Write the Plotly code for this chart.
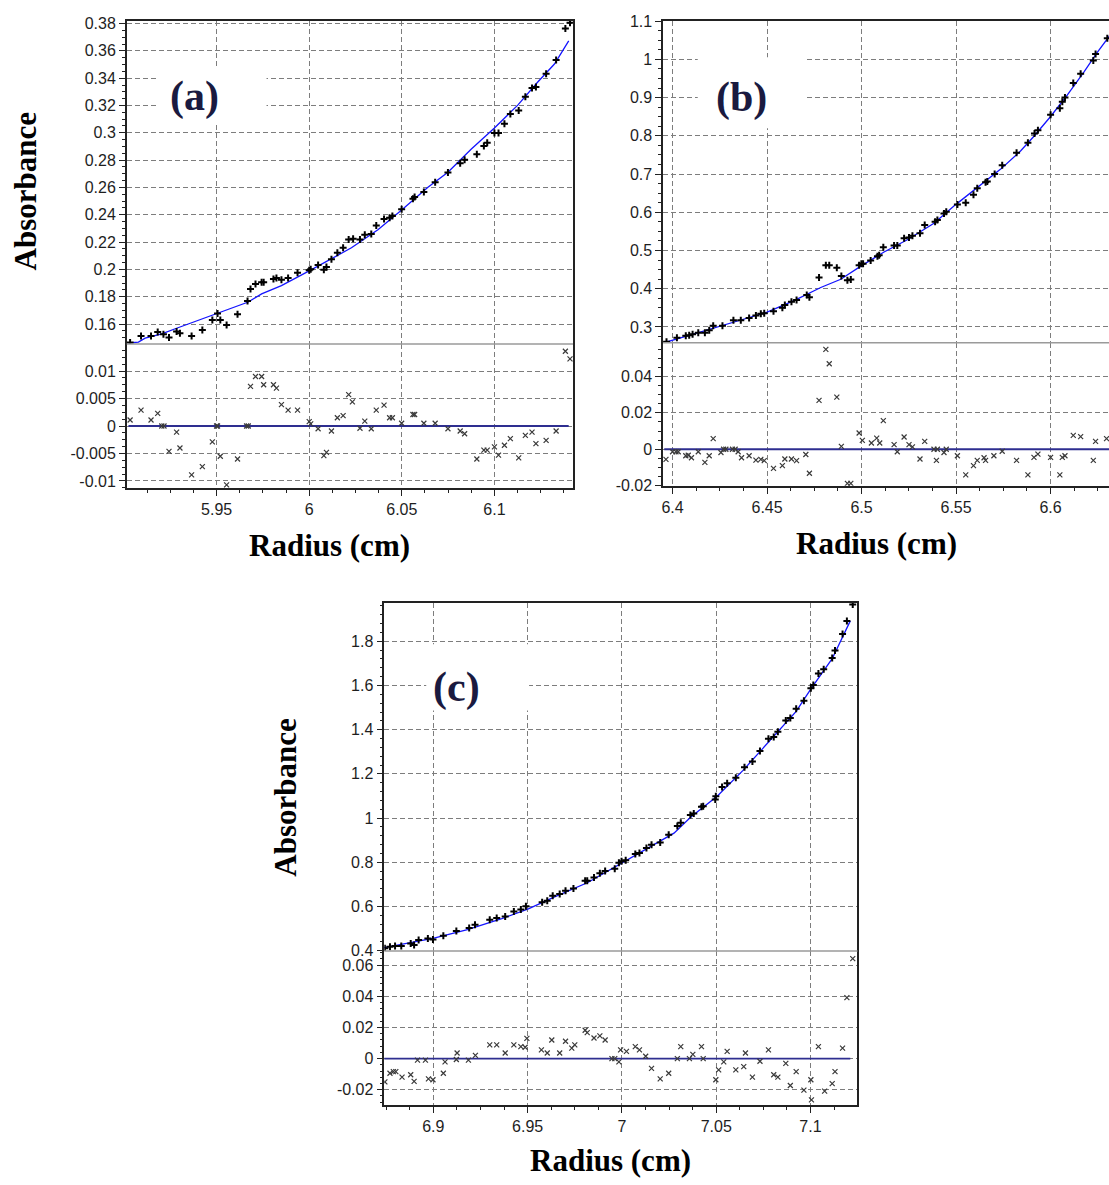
import plotly.graph_objects as go

# ---------------- DATA ----------------
# Panel (a)
a_r = [5.9033, 5.9092, 5.9146, 5.9182, 5.9213, 5.9243, 5.9284, 5.9302, 5.9365, 5.9423, 5.9477, 5.9505, 5.952, 5.9554, 5.9613, 5.9667, 5.9683, 5.971, 5.9743, 5.9754, 5.9807, 5.9823, 5.985, 5.9886, 5.9937, 6.0, 6.0008, 6.0048, 6.0079, 6.0093, 6.012, 6.0152, 6.0183, 6.0213, 6.0237, 6.0274, 6.03, 6.0335, 6.0362, 6.0404, 6.0434, 6.0449, 6.0499, 6.056, 6.0569, 6.0619, 6.068, 6.0749, 6.0815, 6.0839, 6.0905, 6.0943, 6.0961, 6.1, 6.1022, 6.1054, 6.1086, 6.1131, 6.1167, 6.1203, 6.1224, 6.1279, 6.1333, 6.1383, 6.1408]
a_abs = [0.1465, 0.1513, 0.1513, 0.1542, 0.1525, 0.1501, 0.1545, 0.1533, 0.1513, 0.1557, 0.1629, 0.1677, 0.1629, 0.1593, 0.1672, 0.1768, 0.1857, 0.1893, 0.1905, 0.1905, 0.1929, 0.1937, 0.1925, 0.1937, 0.1975, 0.1994, 0.2001, 0.2033, 0.1997, 0.2018, 0.2074, 0.2122, 0.2158, 0.2218, 0.2225, 0.2218, 0.2254, 0.2259, 0.2321, 0.2369, 0.2379, 0.2391, 0.2441, 0.2518, 0.253, 0.2566, 0.2638, 0.271, 0.2778, 0.2802, 0.2843, 0.2903, 0.2927, 0.2999, 0.2999, 0.3066, 0.3138, 0.3163, 0.3264, 0.3329, 0.3336, 0.3432, 0.3533, 0.3764, 0.3805]
a_fit_r = [5.9024, 5.9078, 5.9114, 5.9204, 5.9284, 5.9383, 5.95, 5.9671, 5.9743, 5.985, 6.0, 6.0102, 6.0228, 6.0371, 6.0499, 6.0641, 6.0749, 6.0874, 6.1, 6.1126, 6.1234, 6.1324, 6.1401]
a_fit = [0.1461, 0.1468, 0.1497, 0.1528, 0.1569, 0.1617, 0.1677, 0.1761, 0.1821, 0.1881, 0.1989, 0.2062, 0.2158, 0.229, 0.2434, 0.2602, 0.2711, 0.2879, 0.3035, 0.3203, 0.3372, 0.3504, 0.3673]
a_res_r = [5.9033, 5.9092, 5.9146, 5.9182, 5.9204, 5.9216, 5.9243, 5.9284, 5.9302, 5.9365, 5.9423, 5.9477, 5.95, 5.9505, 5.952, 5.9554, 5.9613, 5.9662, 5.9671, 5.9683, 5.971, 5.9743, 5.9754, 5.9807, 5.9823, 5.985, 5.9886, 5.9937, 6.0, 6.0008, 6.0048, 6.0079, 6.0093, 6.012, 6.0152, 6.0183, 6.0213, 6.0233, 6.0274, 6.03, 6.0335, 6.0362, 6.0404, 6.0434, 6.0449, 6.0499, 6.056, 6.0569, 6.0619, 6.068, 6.0749, 6.0815, 6.0839, 6.0905, 6.0943, 6.0961, 6.1, 6.1022, 6.1054, 6.1086, 6.1131, 6.1167, 6.1203, 6.1224, 6.1279, 6.1333, 6.1383, 6.1408]
a_res = [0.0011, 0.0029, 0.0011, 0.0023, 0.0, 0.0, -0.0046, -0.0011, -0.004, -0.0089, -0.0074, -0.0029, 0.0, 0.0, -0.0055, -0.0107, -0.006, 0.0, 0.0, 0.0072, 0.009, 0.009, 0.0075, 0.0075, 0.0069, 0.0039, 0.0029, 0.0029, 0.0008, 0.0004, -0.0005, -0.0054, -0.0048, -0.0009, 0.0015, 0.0019, 0.0057, 0.0044, -0.0004, 0.0009, -0.0005, 0.0029, 0.0038, 0.0015, 0.0015, 0.0005, 0.0021, 0.0021, 0.0005, 0.0005, -0.0005, -0.0009, -0.0014, -0.006, -0.0044, -0.0044, -0.0038, -0.0053, -0.0035, -0.0023, -0.0058, -0.0017, -0.0011, -0.0032, -0.0026, -0.0009, 0.0136, 0.0122]

# Panel (b)
b_r = [6.3968, 6.4023, 6.407, 6.4088, 6.4106, 6.4136, 6.4171, 6.4194, 6.4215, 6.4264, 6.4322, 6.4361, 6.4405, 6.4441, 6.4467, 6.4485, 6.4534, 6.4581, 6.4594, 6.4629, 6.4656, 6.471, 6.4724, 6.4775, 6.4811, 6.4829, 6.4869, 6.4893, 6.4925, 6.4943, 6.4987, 6.4999, 6.5008, 6.5048, 6.5084, 6.5093, 6.5115, 6.5172, 6.5189, 6.5225, 6.5251, 6.5269, 6.5309, 6.5334, 6.5389, 6.5401, 6.5436, 6.5448, 6.5507, 6.5551, 6.5592, 6.5612, 6.5656, 6.5665, 6.5704, 6.5744, 6.582, 6.588, 6.5915, 6.5933, 6.6, 6.6049, 6.6062, 6.6076, 6.612, 6.6159, 6.6226, 6.6238, 6.63]
b_abs = [0.2613, 0.2716, 0.2768, 0.2785, 0.2811, 0.2845, 0.2845, 0.2914, 0.3034, 0.3034, 0.3172, 0.3172, 0.3232, 0.3301, 0.3344, 0.3361, 0.3413, 0.3499, 0.3576, 0.3662, 0.3705, 0.3834, 0.3774, 0.429, 0.4617, 0.4617, 0.4548, 0.4333, 0.4222, 0.4239, 0.4617, 0.4652, 0.4652, 0.4738, 0.4849, 0.4875, 0.5082, 0.5133, 0.5133, 0.5323, 0.534, 0.5383, 0.5452, 0.5667, 0.5753, 0.5796, 0.5968, 0.6011, 0.62, 0.6252, 0.6458, 0.663, 0.6785, 0.6802, 0.7, 0.7232, 0.7559, 0.7817, 0.8058, 0.8144, 0.8548, 0.872, 0.8892, 0.9004, 0.9383, 0.9624, 0.9968, 1.014, 1.0553]
b_fit_r = [6.3956, 6.4, 6.415, 6.4326, 6.45, 6.4643, 6.4784, 6.489, 6.4996, 6.5119, 6.5242, 6.5313, 6.5383, 6.5498, 6.5612, 6.5736, 6.5841, 6.5912, 6.6, 6.6088, 6.6176, 6.6247, 6.6312]
b_fit = [0.2587, 0.2656, 0.2871, 0.3129, 0.3387, 0.3688, 0.4032, 0.4247, 0.459, 0.4961, 0.528, 0.5495, 0.571, 0.62, 0.6656, 0.7129, 0.7602, 0.7989, 0.8505, 0.9065, 0.9667, 1.0183, 1.0613]
b_res_r = [6.3965, 6.4, 6.4018, 6.403, 6.407, 6.4083, 6.41, 6.4136, 6.4171, 6.4194, 6.4215, 6.4256, 6.427, 6.4282, 6.4317, 6.4331, 6.4347, 6.4365, 6.4405, 6.4441, 6.4467, 6.4485, 6.4534, 6.4581, 6.4594, 6.4629, 6.4656, 6.4705, 6.4724, 6.4775, 6.4811, 6.4829, 6.4869, 6.4893, 6.4925, 6.4943, 6.4987, 6.5004, 6.5052, 6.508, 6.5096, 6.5115, 6.5172, 6.5189, 6.5225, 6.5251, 6.5269, 6.5309, 6.5334, 6.5383, 6.5396, 6.5401, 6.5436, 6.5448, 6.5507, 6.5551, 6.5592, 6.5612, 6.5648, 6.5656, 6.57, 6.5744, 6.582, 6.588, 6.5912, 6.5933, 6.6, 6.6049, 6.6062, 6.6076, 6.612, 6.6159, 6.6226, 6.6238, 6.6296]
b_res = [-0.0056, -0.0014, -0.0014, -0.0014, -0.0036, -0.0033, -0.0047, -0.0014, -0.0072, -0.0036, 0.0058, -0.0018, 0.0, 0.0, 0.0, 0.0, -0.0014, -0.0047, -0.0036, -0.006, -0.0056, -0.0063, -0.0105, -0.009, -0.0054, -0.0054, -0.0063, -0.0029, -0.0132, 0.0269, 0.0549, 0.047, 0.0287, 0.0016, -0.0188, -0.0188, 0.0089, 0.0049, 0.0034, 0.0061, 0.0034, 0.0157, 0.0025, -0.0014, 0.0067, 0.0025, 0.0013, -0.0054, 0.0043, 0.0, -0.0061, 0.0, -0.0018, 0.0, -0.0036, -0.0141, -0.009, -0.0061, -0.0047, -0.0061, -0.0036, -0.0011, -0.0061, -0.0141, -0.0045, -0.0027, -0.0045, -0.0141, -0.0045, -0.0036, 0.0076, 0.0069, -0.0061, 0.0043, 0.0058]

# Panel (c)
c_r = [6.8743, 6.877, 6.8797, 6.883, 6.888, 6.8898, 6.8922, 6.8971, 6.8998, 6.9053, 6.9122, 6.919, 6.9221, 6.9299, 6.9336, 6.9381, 6.9427, 6.9464, 6.9491, 6.9577, 6.9604, 6.9633, 6.967, 6.9701, 6.9743, 6.9805, 6.9816, 6.9852, 6.9883, 6.9911, 6.9962, 6.9984, 6.9998, 7.002, 7.0071, 7.0093, 7.013, 7.0157, 7.0203, 7.0248, 7.0294, 7.0312, 7.0363, 7.0381, 7.0422, 7.0431, 7.0495, 7.0498, 7.0531, 7.0558, 7.0604, 7.065, 7.0692, 7.0732, 7.0777, 7.0805, 7.0827, 7.0869, 7.0893, 7.0924, 7.0965, 7.1002, 7.1015, 7.1042, 7.107, 7.1115, 7.113, 7.117, 7.1193, 7.1224]
c_abs = [0.4104, 0.4179, 0.4209, 0.4209, 0.4328, 0.4253, 0.4477, 0.4551, 0.4506, 0.467, 0.4894, 0.5028, 0.5177, 0.54, 0.5474, 0.5549, 0.5772, 0.5862, 0.6011, 0.6189, 0.6264, 0.6487, 0.6562, 0.6711, 0.6815, 0.7158, 0.7158, 0.7307, 0.75, 0.7604, 0.7709, 0.7977, 0.8051, 0.8096, 0.8379, 0.8424, 0.8647, 0.8796, 0.89, 0.9243, 0.9645, 0.9794, 1.0136, 1.0211, 1.0509, 1.0539, 1.0836, 1.0985, 1.1402, 1.1581, 1.182, 1.2296, 1.2564, 1.3041, 1.3592, 1.3666, 1.3905, 1.4411, 1.453, 1.4947, 1.5305, 1.5871, 1.602, 1.6541, 1.6735, 1.7241, 1.7584, 1.8328, 1.8924, 1.9669]
c_fit_r = [6.8734, 6.8816, 6.8998, 6.9181, 6.9363, 6.9504, 6.9637, 6.9819, 7.0, 7.0184, 7.0276, 7.0367, 7.0505, 7.0641, 7.075, 7.0841, 7.0924, 7.1004, 7.1115, 7.1211]
c_fit = [0.4134, 0.4253, 0.4551, 0.4953, 0.5445, 0.5892, 0.6413, 0.7083, 0.7977, 0.887, 0.9317, 1.0062, 1.0985, 1.2147, 1.319, 1.4083, 1.4828, 1.5871, 1.7211, 1.8924]
c_res_r = [6.8743, 6.877, 6.8788, 6.8801, 6.8834, 6.888, 6.8898, 6.8916, 6.8958, 6.8974, 6.8998, 6.9053, 6.9062, 6.9122, 6.9126, 6.9186, 6.9223, 6.9299, 6.9336, 6.9381, 6.9427, 6.9464, 6.9487, 6.9496, 6.9573, 6.9604, 6.9628, 6.967, 6.9701, 6.9734, 6.975, 6.9805, 6.9816, 6.9852, 6.9883, 6.9911, 6.9947, 6.9962, 6.9984, 6.9993, 7.0024, 7.0071, 7.0093, 7.0126, 7.0157, 7.0203, 7.0248, 7.0294, 7.0312, 7.0358, 7.0376, 7.0422, 7.0431, 7.0498, 7.0513, 7.054, 7.0558, 7.0604, 7.0646, 7.0655, 7.0692, 7.0732, 7.0777, 7.0805, 7.0827, 7.0869, 7.0893, 7.0924, 7.0965, 7.1002, 7.1005, 7.1042, 7.1075, 7.1115, 7.113, 7.117, 7.1193, 7.1224]
c_res = [-0.015, -0.0094, -0.0084, -0.0084, -0.0119, -0.0104, -0.0146, -0.001, -0.001, -0.013, -0.0136, -0.0094, -0.0021, -0.0006, 0.0036, -0.001, 0.0021, 0.0088, 0.0088, 0.0036, 0.0088, 0.0077, 0.0073, 0.013, 0.0056, 0.0036, 0.0119, 0.0036, 0.0111, 0.0067, 0.0088, 0.0182, 0.0167, 0.0132, 0.0146, 0.0119, 0.0, 0.0, -0.0021, 0.0056, 0.0046, 0.0077, 0.0056, 0.0015, -0.0063, -0.013, -0.0094, 0.0, 0.0077, 0.0, 0.0027, 0.0077, 0.0, -0.0136, -0.0073, -0.0021, 0.0046, -0.0073, -0.0052, 0.0036, -0.0119, -0.0017, 0.0056, -0.0104, -0.0119, -0.0031, -0.0173, -0.0084, -0.0203, -0.0136, -0.0265, 0.0077, -0.0209, -0.0161, -0.0084, 0.0067, 0.0391, 0.0642]

# Tick values / labels
a_xticks = [5.95, 6.0, 6.05, 6.1]
a_xlabels = ["5.95", "6", "6.05", "6.1"]
a_yticks = [0.16, 0.18, 0.20, 0.22, 0.24, 0.26, 0.28, 0.30, 0.32, 0.34, 0.36, 0.38]
a_ylabels = ["0.16", "0.18", "0.2", "0.22", "0.24", "0.26", "0.28", "0.3", "0.32", "0.34", "0.36", "0.38"]
a_rticks = [-0.01, -0.005, 0.0, 0.005, 0.01]
a_rlabels = ["-0.01", "-0.005", "0", "0.005", "0.01"]

b_xticks = [6.4, 6.45, 6.5, 6.55, 6.6]
b_xlabels = ["6.4", "6.45", "6.5", "6.55", "6.6"]
b_yticks = [0.3, 0.4, 0.5, 0.6, 0.7, 0.8, 0.9, 1.0, 1.1]
b_ylabels = ["0.3", "0.4", "0.5", "0.6", "0.7", "0.8", "0.9", "1", "1.1"]
b_rticks = [-0.02, 0.0, 0.02, 0.04]
b_rlabels = ["-0.02", "0", "0.02", "0.04"]

c_xticks = [6.9, 6.95, 7.0, 7.05, 7.1]
c_xlabels = ["6.9", "6.95", "7", "7.05", "7.1"]
c_yticks = [0.4, 0.6, 0.8, 1.0, 1.2, 1.4, 1.6, 1.8]
c_ylabels = ["0.4", "0.6", "0.8", "1", "1.2", "1.4", "1.6", "1.8"]
c_rticks = [-0.02, 0.0, 0.02, 0.04, 0.06]
c_rlabels = ["-0.02", "0", "0.02", "0.04", "0.06"]

# ---------------- LAYOUT HELPERS ----------------
W, H = 1109, 1185


def fx(px):
    return px / W


def fy(py):
    return 1 - py / H


GRID = "#7d7d7d"
AX = "#222222"
SEP = "#9a9a9a"
FIT = "#1414ff"
ZERO = "#2e2e90"
TICKFONT = dict(family="Liberation Sans, Arial, sans-serif", size=16, color="#1e1e1e")
SERIF = "Liberation Serif, Times New Roman, serif"

fig = go.Figure()

panels = [
    dict(xpx=(125, 572), xr=(5.9015, 6.1424), toppx=(13, 340.7), yr=(0.1453, 0.382),
         botpx=(340.7, 486.7), rr=(-0.0113, 0.0149),
         xt=(a_xticks, a_xlabels), yt=(a_yticks, a_ylabels), rt=(a_rticks, a_rlabels),
         ymin=0.005, rmin=0.00125, mirror=True,
         pts=(a_r, a_abs), fit=(a_fit_r, a_fit), res=(a_res_r, a_res), x0=5.95),
    dict(xpx=(662.3, 1109), xr=(6.395, 6.6309), toppx=(12.7, 339.3), yr=(0.2587, 1.1016),
         botpx=(339.3, 484.3), rr=(-0.0201, 0.0586),
         xt=(b_xticks, b_xlabels), yt=(b_yticks, b_ylabels), rt=(b_rticks, b_rlabels),
         ymin=0.025, rmin=0.005, mirror=False,
         pts=(b_r, b_abs), fit=(b_fit_r, b_fit), res=(b_res_r, b_res), x0=6.4),
    dict(xpx=(383, 857), xr=(6.874, 7.1249), toppx=(603, 956), yr=(0.398, 1.974),
         botpx=(956, 1112), rr=(-0.0298, 0.069),
         xt=(c_xticks, c_xlabels), yt=(c_yticks, c_ylabels), rt=(c_rticks, c_rlabels),
         ymin=0.04, rmin=0.004, mirror=True,
         pts=(c_r, c_abs), fit=(c_fit_r, c_fit), res=(c_res_r, c_res), x0=6.9),
]

layout_axes = {}
shapes = []
for i, p in enumerate(panels):
    nt = 2 * i + 1  # top axes index
    nb = 2 * i + 2  # bottom axes index
    xdom = [fx(p["xpx"][0]), fx(p["xpx"][1])]
    tdom = [fy(p["toppx"][1]), fy(p["toppx"][0])]
    bdom = [fy(p["botpx"][1]), fy(p["botpx"][0])]

    def k(prefix, n):
        return prefix if n == 1 else f"{prefix}{n}"

    common_grid = dict(showgrid=True, gridcolor=GRID, griddash="5px,3px", gridwidth=1,
                       zeroline=False, tickfont=TICKFONT)
    # top x axis (no labels, gridlines, top border)
    layout_axes[k("xaxis", nt)] = dict(
        domain=xdom, range=list(p["xr"]), anchor=k("y", nt), side="top",
        tickmode="array", tickvals=p["xt"][0], ticktext=p["xt"][1],
        showticklabels=False, ticks="", showline=True, linecolor=AX, linewidth=1.5,
        **common_grid)
    # bottom x axis
    layout_axes[k("xaxis", nb)] = dict(
        domain=xdom, range=list(p["xr"]), anchor=k("y", nb), side="bottom",
        tickmode="array", tickvals=p["xt"][0], ticktext=p["xt"][1],
        ticks="outside", ticklen=6, tickwidth=1, tickcolor=AX,
        showline=True, linecolor=AX, linewidth=1.5,
        minor=dict(ticks="outside", ticklen=3, tickwidth=1, tickcolor=AX,
                   dtick=0.0125, tick0=p["x0"], showgrid=False),
        **common_grid)
    # top y axis
    layout_axes[k("yaxis", nt)] = dict(
        domain=tdom, range=list(p["yr"]), anchor=k("x", nt),
        tickmode="array", tickvals=p["yt"][0], ticktext=p["yt"][1],
        ticks="outside", ticklen=6, tickwidth=1, tickcolor=AX,
        showline=True, linecolor=AX, linewidth=1.5, mirror=p["mirror"],
        minor=dict(ticks="outside", ticklen=3, tickwidth=1, tickcolor=AX,
                   dtick=p["ymin"], tick0=0, showgrid=False),
        **common_grid)
    # bottom (residual) y axis
    layout_axes[k("yaxis", nb)] = dict(
        domain=bdom, range=list(p["rr"]), anchor=k("x", nb),
        tickmode="array", tickvals=p["rt"][0], ticktext=p["rt"][1],
        ticks="outside", ticklen=6, tickwidth=1, tickcolor=AX,
        showline=True, linecolor=AX, linewidth=1.5, mirror=p["mirror"],
        minor=dict(ticks="outside", ticklen=3, tickwidth=1, tickcolor=AX,
                   dtick=p["rmin"], tick0=0, showgrid=False),
        **common_grid)

    # separator between the two plots
    shapes.append(dict(type="line", xref="paper", yref="paper",
                       x0=xdom[0], x1=xdom[1], y0=tdom[0], y1=tdom[0],
                       line=dict(color=SEP, width=1.5), layer="above"))

    # traces
    xr_, yr_ = p["pts"]
    fig.add_trace(go.Scatter(x=p["fit"][0], y=p["fit"][1], mode="lines",
                             line=dict(color=FIT, width=1.3),
                             xaxis=k("x", nt), yaxis=k("y", nt), showlegend=False))
    fig.add_trace(go.Scatter(x=xr_, y=yr_, mode="markers",
                             marker=dict(symbol="cross-thin", size=5,
                                         line=dict(color="#000000", width=2)),
                             xaxis=k("x", nt), yaxis=k("y", nt), showlegend=False))
    rx, ry = p["res"]
    fig.add_trace(go.Scatter(x=[min(p["fit"][0]), max(p["fit"][0])], y=[0, 0], mode="lines",
                             line=dict(color=ZERO, width=1.8),
                             xaxis=k("x", nb), yaxis=k("y", nb), showlegend=False))
    fig.add_trace(go.Scatter(x=rx, y=ry, mode="markers",
                             marker=dict(symbol="x-thin", size=5,
                                         line=dict(color="#3a3a3a", width=1.2)),
                             xaxis=k("x", nb), yaxis=k("y", nb), showlegend=False))

# white boxes behind panel labels (they hide part of the grid in the original)
for (x0, y0, x1, y1) in [(157, 60, 265, 118), (697, 50, 806, 122), (425, 645, 528, 712)]:
    shapes.append(dict(type="rect", xref="paper", yref="paper",
                       x0=fx(x0), x1=fx(x1), y0=fy(y1), y1=fy(y0),
                       fillcolor="white", line=dict(width=0), layer="above"))

annotations = []
LBL = dict(family=SERIF, size=31, color="#000000")
for (x, y, txt, ang) in [(24, 186, "Absorbance", -90), (284, 800, "Absorbance", -90),
                         (328, 545, "Radius (cm)", 0), (876, 543, "Radius (cm)", 0),
                         (610, 1168, "Radius (cm)", 0)]:
    annotations.append(dict(x=fx(x), y=fy(y), xref="paper", yref="paper",
                            text=f"<b>{txt}</b>", textangle=ang, showarrow=False,
                            font=LBL, xanchor="center", yanchor="middle"))
PAN = dict(family=SERIF, size=42, color="#1a1a40")
for (x, y, txt) in [(193, 90, "(a)"), (741, 91, "(b)"), (455, 689, "(c)")]:
    annotations.append(dict(x=fx(x), y=fy(y), xref="paper", yref="paper",
                            text=f"<b>{txt}</b>", showarrow=False, font=PAN,
                            xanchor="center", yanchor="middle"))

fig.update_layout(
    width=W, height=H, margin=dict(l=0, r=0, t=0, b=0),
    paper_bgcolor="white", plot_bgcolor="white",
    shapes=shapes, annotations=annotations, showlegend=False,
    **layout_axes)

fig.write_html("out.html")
